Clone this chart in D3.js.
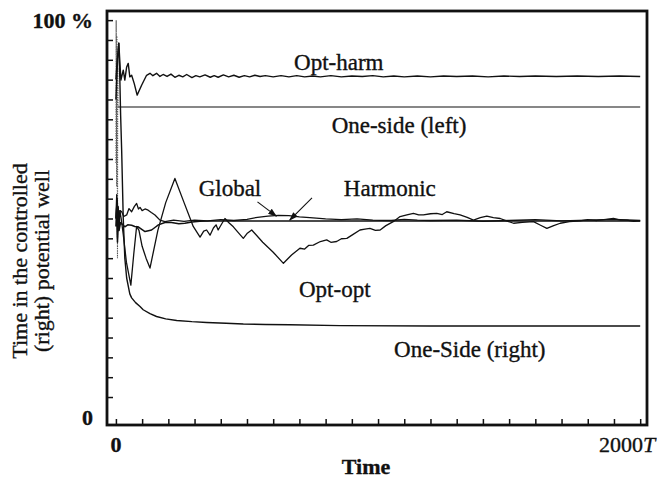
<!DOCTYPE html>
<html>
<head>
<meta charset="utf-8">
<script src="https://cdn.jsdelivr.net/npm/d3@7/dist/d3.min.js"></script>
<style>
  html, body { margin: 0; padding: 0; background: #fff; }
  svg { display: block; }
  text { font-family: "Liberation Serif", "Times New Roman", serif; fill: #111; stroke: #111; stroke-width: 0.35px; }
</style>
</head>
<body>
<svg id="chart" width="657" height="481"></svg>
<script>
// Share of time spent in the controlled (right) potential well, in percent,
// for each control strategy, sampled over 0 .. 2000 periods T.

const startUp = [[0, 64], [1, 100], [3, 58], [4, 96], [6, 40], [7, 88], [8, 78.1]];

const optHarm = [
  [0, 80], [5, 88], [11, 94.2], [19, 84.9], [28, 87.4], [34, 84.9], [41, 88.2], [47, 89.1],
  [53, 85.7], [60, 86.1], [70, 84], [81, 81.1], [98, 83.6], [117, 86.1], [130, 86.6],
  [141, 86], [155, 86.6], [168, 85.8], [180, 86.3], [195, 85.8], [210, 86.4], [225, 85.6],
  [240, 86.1], [255, 85.7], [270, 86.3], [290, 85.5], [305, 86.0], [320, 85.7], [340, 86.2],
  [360, 85.6], [375, 86.0], [390, 85.6], [410, 86.2], [430, 85.7], [450, 86.1], [470, 85.6],
  [490, 86.0], [510, 85.7], [530, 86.1], [550, 85.8], [570, 86.0], [600, 85.7], [630, 86.0],
  [660, 85.7], [690, 86.0], [720, 85.7], [750, 85.9], [780, 85.7], [820, 86.0], [860, 85.7],
  [900, 85.9], [940, 85.8], [980, 86.0], [1020, 85.7], [1060, 85.9], [1100, 85.7],
  [1150, 85.9], [1200, 85.7], [1250, 85.9], [1300, 85.8], [1360, 85.9], [1420, 85.7],
  [1480, 85.9], [1540, 85.8], [1600, 85.9], [1680, 85.8], [1760, 85.9], [1840, 85.8],
  [1920, 85.9], [2000, 85.8]
];

const oneSideLeft = [[8, 78.1], [2000, 78.1]];

const oneSideRight = [
  [0, 85], [5, 90], [11, 94.2], [15, 85], [18, 76], [22, 67], [28, 50], [34, 40], [41, 35],
  [53, 31], [60, 30], [75, 28.8], [92, 27.8], [104, 27], [130, 26], [155, 25.3], [190, 24.7],
  [232, 24.3], [290, 24], [346, 23.8], [420, 23.6], [486, 23.4], [570, 23.3], [664, 23.2],
  [855, 23], [1200, 22.9], [1600, 22.9], [2000, 22.9]
];

const globalCtl = [
  [0, 50], [3, 56], [6, 45], [9, 53], [12, 48], [16, 52], [22, 51.7], [30, 50.5], [41, 50.9],
  [50, 52.5], [60, 51.7], [70, 53], [79, 53.8], [86, 52.4], [92, 52.8], [100, 52], [111, 52.4],
  [123, 52.1], [135, 51.5], [149, 50.9], [168, 49.6], [187, 49.2], [220, 49.6], [260, 49.3],
  [300, 49.6], [350, 49.4], [400, 49.7], [450, 49.5], [500, 49.8], [540, 50.3], [580, 50.6],
  [620, 50.8], [660, 50.7], [700, 50.4], [740, 50.2], [800, 49.9], [860, 49.7], [920, 49.9],
  [980, 49.6], [1050, 49.5], [1100, 49.8], [1150, 49.6], [1200, 49.5], [1300, 49.6],
  [1400, 49.3], [1500, 49.5], [1600, 49.7], [1700, 49.4], [1800, 49.6], [1900, 49.8],
  [2000, 49.5]
];

const harmonic = [
  [0, 48], [3, 53], [6, 44], [9, 50], [12, 47], [18, 49], [25, 48.5], [34, 47.9], [45, 48.4],
  [60, 48.3], [72, 48], [85, 47.9], [100, 47.2], [111, 46.7], [124, 46.9], [136, 47.1],
  [150, 47.8], [162, 48.4], [187, 49], [212, 49], [240, 48.7], [263, 48.8], [290, 49.1],
  [320, 49.3], [360, 49.4], [500, 49.4], [800, 49.4], [1200, 49.4], [1600, 49.4], [2000, 49.4]
];

const optOpt = [
  [0, 50], [5, 55], [10, 47], [15, 52], [20, 50], [28, 46], [40, 39], [57, 33.2], [68, 41],
  [79, 48], [88, 47], [100, 43], [115, 40], [130, 37.5], [160, 47], [190, 54], [225, 60.1],
  [260, 54], [295, 48], [321, 45.3], [335, 46.8], [346, 47.1], [359, 45.8], [372, 47.6],
  [382, 48.4], [390, 47.1], [405, 48.8], [416, 50], [430, 49], [448, 47.9], [466, 46.5],
  [486, 45], [500, 46.2], [518, 47.1], [560, 44], [600, 41.5], [639, 38.7], [670, 40.8],
  [702, 42.5], [720, 42.3], [735, 43.2], [753, 43.3], [780, 44.2], [804, 44.6], [820, 44],
  [842, 44.2], [860, 44.9], [881, 45], [905, 46], [931, 47.1], [950, 47.3], [969, 47.5],
  [990, 47.0], [1008, 47.1], [1030, 48.2], [1058, 49.2], [1084, 50.5], [1110, 50.9],
  [1135, 51.3], [1155, 50.9], [1173, 50.9], [1200, 51.2], [1224, 51.3], [1245, 51.0],
  [1262, 51.7], [1290, 51.2], [1313, 50.9], [1340, 50.3], [1364, 49.6], [1390, 50.2],
  [1415, 50.6], [1440, 50.2], [1466, 50], [1490, 49.4], [1517, 48.8], [1550, 49.0],
  [1593, 49.2], [1620, 48.3], [1644, 47.5], [1670, 48.2], [1695, 48.8], [1730, 49.2],
  [1771, 49.4], [1800, 49.7], [1835, 49.5], [1870, 49.8], [1898, 50], [1925, 49.6],
  [1949, 49.6], [1975, 49.3], [2000, 49.4]
];

const xTicks = d3.range(0, 2001, 100);
const yTicks = d3.range(5, 101, 5);

// Curve labels: text, anchor time and percentage for the label baseline
const labels = [
  { text: "Opt-harm", t: 850, p: 87.5 },
  { text: "One-side (left)", t: 1080, p: 71.5 },
  { text: "Global", t: 435, p: 55.6 },
  { text: "Harmonic", t: 1045, p: 55.6 },
  { text: "Opt-opt", t: 835, p: 30.3 },
  { text: "One-Side (right)", t: 1350, p: 15.2 }
];

// Leader arrows: from (t0,p0) to the curve at (t1,p1)
const arrows = [
  { t0: 540, p0: 54.2, t1: 612, p1: 50.6 },
  { t0: 748, p0: 55.2, t1: 663, p1: 49.6 }
];

const svg = d3.select("#chart");
const x = d3.scaleLinear().domain([-34, 2026]).range([107, 647]);
const y = d3.scaleLinear().domain([-2.05, 102.3]).range([425, 11]);

const line = d3.line().x(d => x(d[0])).y(d => y(d[1]));

const plot = svg.append("g");

// early start-up transients (dense, show up as dotted grey)
plot.append("path").datum(startUp)
  .attr("d", line).attr("fill", "none")
  .attr("stroke", "#555").attr("stroke-width", 1.1).attr("stroke-dasharray", "1.2,1.2");

const series = [
  { data: oneSideLeft, w: 1.2 },
  { data: oneSideRight, w: 1.4 },
  { data: optHarm, w: 1.4 },
  { data: harmonic, w: 1.5 },
  { data: globalCtl, w: 1.3 },
  { data: optOpt, w: 1.3 }
];

plot.selectAll("path.curve").data(series).join("path")
  .attr("class", "curve")
  .attr("d", d => line(d.data))
  .attr("fill", "none").attr("stroke", "#111")
  .attr("stroke-width", d => d.w).attr("stroke-linejoin", "round");

// frame
svg.append("rect")
  .attr("x", x.range()[0]).attr("y", y.range()[1])
  .attr("width", x.range()[1] - x.range()[0])
  .attr("height", y.range()[0] - y.range()[1])
  .attr("fill", "none").attr("stroke", "#111").attr("stroke-width", 2.8);

// inward ticks
const xAxis = d3.axisTop(x).tickValues(xTicks).tickSize(6).tickFormat("");
const gx = svg.append("g").attr("transform", `translate(0,${y.range()[0]})`).call(xAxis);
gx.select(".domain").remove();
gx.selectAll("line").attr("stroke", "#111").attr("stroke-width", 1.5);

const yAxis = d3.axisRight(y).tickValues(yTicks).tickSize(6).tickFormat("");
const gy = svg.append("g").attr("transform", `translate(${x.range()[0]},0)`).call(yAxis);
gy.select(".domain").remove();
gy.selectAll("line").attr("stroke", "#111").attr("stroke-width", 1.5);

// tick labels
const fs = 22;
svg.append("text").attr("x", 93).attr("y", y(100) + 8).attr("text-anchor", "end")
  .attr("font-size", fs).attr("font-weight", "bold").text("100 %");
svg.append("text").attr("x", 93).attr("y", y(0) + 8).attr("text-anchor", "end")
  .attr("font-size", fs).attr("font-weight", "bold").text("0");
svg.append("text").attr("x", x(0)).attr("y", 452).attr("text-anchor", "middle")
  .attr("font-size", fs).attr("font-weight", "bold").text("0");
const tEnd = svg.append("text").attr("x", x(2000) + 15).attr("y", 452).attr("text-anchor", "end")
  .attr("font-size", fs);
tEnd.append("tspan").text("2000");
tEnd.append("tspan").attr("font-style", "italic").text("T");

// axis titles
svg.append("text").attr("x", 366).attr("y", 474).attr("text-anchor", "middle")
  .attr("font-size", fs).attr("font-weight", "bold").text("Time");
const yTitle = svg.append("g").attr("transform", "translate(0,261) rotate(-90)");
yTitle.append("text").attr("x", 0).attr("y", 27).attr("text-anchor", "middle")
  .attr("font-size", fs).text("Time in the controlled");
yTitle.append("text").attr("x", 0).attr("y", 49).attr("text-anchor", "middle")
  .attr("font-size", fs).text("(right) potential well");

// curve labels
svg.selectAll("text.lab").data(labels).join("text")
  .attr("class", "lab")
  .attr("x", d => x(d.t)).attr("y", d => y(d.p))
  .attr("text-anchor", "middle").attr("font-size", 23)
  .text(d => d.text);

// arrows
svg.append("defs").append("marker")
  .attr("id", "head").attr("viewBox", "0 0 10 10")
  .attr("refX", 9).attr("refY", 5)
  .attr("markerWidth", 9).attr("markerHeight", 9)
  .attr("markerUnits", "userSpaceOnUse")
  .attr("orient", "auto")
  .append("path").attr("d", "M0,1.5 L10,5 L0,8.5 Z").attr("fill", "#111");

svg.selectAll("line.arrow").data(arrows).join("line")
  .attr("class", "arrow")
  .attr("x1", d => x(d.t0)).attr("y1", d => y(d.p0))
  .attr("x2", d => x(d.t1)).attr("y2", d => y(d.p1))
  .attr("stroke", "#111").attr("stroke-width", 1.1)
  .attr("marker-end", "url(#head)");
</script>
</body>
</html>
